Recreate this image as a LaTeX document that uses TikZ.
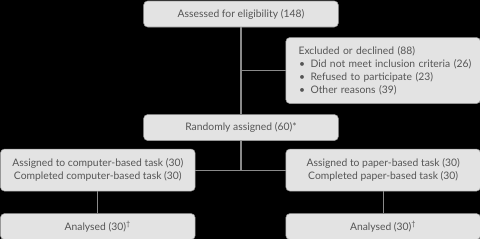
\documentclass[tikz,border=0pt]{standalone}
\usepackage{fontspec}
\setmainfont{Lato}
\usetikzlibrary{positioning}

\definecolor{boxfill}{HTML}{E3E3E3}
\definecolor{boxline}{HTML}{9A9A9A}
\definecolor{linkgray}{HTML}{8A8A8A}
\definecolor{textgray}{HTML}{555555}

\begin{document}
\begin{tikzpicture}[
  box/.style={draw=boxline, rounded corners=3pt, fill=boxfill, minimum width=146pt, minimum height=19.5pt, align=center, text=textgray, font=\fontsize{7.75}{9.75}\selectfont, inner sep=1pt},
  link/.style={draw=linkgray, thick}
]
\fill[black] (-180.75pt,10.5pt) rectangle (179.25pt,-168.75pt);
\useasboundingbox (-180.75pt,10.5pt) rectangle (179.25pt,-168.75pt);
\node[box] (assess) at (0,0) {Assessed for eligibility (148)};
\node[box, below=65.25pt of assess] (rand) {Randomly assigned (60)*};
\node[box, align=left, minimum height=49.5pt, text width=134pt, inner xsep=6pt, below right=7.5pt and -39.75pt of assess] (excl)
  {\hspace*{3.5pt}Excluded or declined (88)\\
   \hspace*{4pt}\textbullet\hspace{4pt}Did not meet inclusion criteria (26)\\
   \hspace*{4pt}\textbullet\hspace{4pt}Refused to participate (23)\\
   \hspace*{4pt}\textbullet\hspace{4pt}Other reasons (39)};
\node[box, minimum height=31.5pt, below left=6pt and -39pt of rand] (comp)
  {Assigned to computer-based task (30)\\Completed computer-based task (30)};
\node[box, minimum height=31.5pt, below right=6pt and -39.75pt of rand] (paper)
  {Assigned to paper-based task (30)\\Completed paper-based task (30)};
\node[box, below=16.5pt of comp] (analL) {Analysed (30)\textsuperscript{†}};
\node[box, below=16.5pt of paper] (analR) {Analysed (30)\textsuperscript{†}};
% connectors
\draw[link] (assess.south) -- (rand.north);
\draw[link] (assess.south |- excl.west) -- (excl.west);
\draw[link] (rand.south) -- (rand.south |- comp.east);
\draw[link] (comp.east) -- (paper.west);
\draw[link] (comp.south) -- (analL.north);
\draw[link] (paper.south) -- (analR.north);
\end{tikzpicture}
\end{document}
